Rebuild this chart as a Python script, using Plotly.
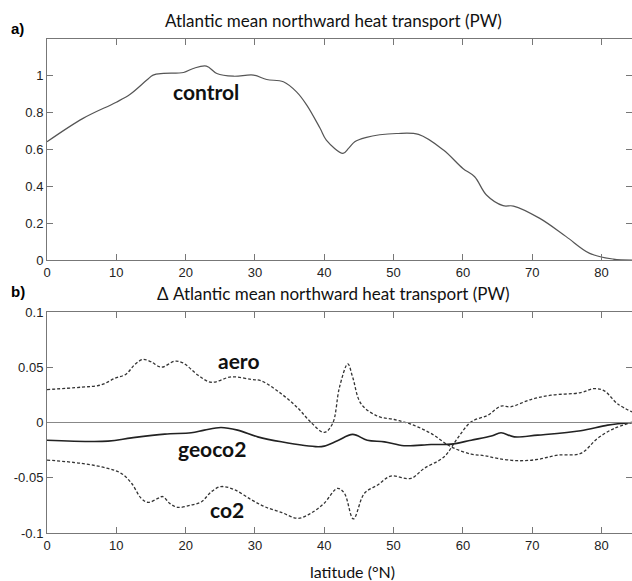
import plotly.graph_objects as go

# ---- data ----
control_lat = [0, 5.2, 10, 12, 14.4, 15.3, 16.8, 19.7, 21.1, 23.0, 24.5, 26.9, 29.8, 31.7, 34.1, 36.0,
               37.5, 39.4, 40.3, 42.7, 43.5, 44.4, 46.1, 48.0, 50.4, 53.6, 57.2, 60.0, 61.7, 63.4,
               65.8, 67.3, 71.1, 74.9, 78.3, 81.7, 84.4]
control_val = [0.642, 0.769, 0.857, 0.90, 0.977, 1.004, 1.013, 1.018, 1.04, 1.053, 1.013, 0.998, 1.004,
               0.98, 0.968, 0.913, 0.84, 0.715, 0.651, 0.579, 0.606, 0.642, 0.666, 0.68, 0.687, 0.682,
               0.597, 0.497, 0.452, 0.353, 0.295, 0.293, 0.226, 0.127, 0.036, 0.005, 0.0]

aero_lat = [0, 5, 7.8, 9.8, 11.4, 12.6, 13.8, 15.0, 16.5, 18.4, 19.6, 21.8, 23.7, 26.6, 29.5, 30.9,
            33.8, 36.2, 38.1, 40.0, 41.2, 42.2, 43.4, 44.1, 45.3, 47.7, 50.1, 52.5, 55.4, 58.3,
            61.2, 63.1, 65.0, 67.9, 70.8, 73.7, 77.0, 79.4, 81.8, 84.4]
aero_val = [0.0298, 0.032, 0.034, 0.040, 0.0437, 0.052, 0.057, 0.055, 0.050, 0.0554, 0.054, 0.0428,
            0.0364, 0.0413, 0.0389, 0.0377, 0.026, 0.013, 0.0, -0.009, -0.001, 0.032, 0.053, 0.041,
            0.017, 0.0057, 0.0027, -0.0015, -0.0099, -0.022, -0.0286, -0.030, -0.0325, -0.0346,
            -0.0334, -0.0295, -0.028, -0.0145, -0.0054, 0.0]

co2_lat = [0, 5, 8.8, 10.7, 12.2, 13.6, 14.6, 16.0, 16.7, 17.7, 18.9, 20.8, 22.3, 23.7, 25.1, 27.1,
           29.5, 31.4, 33.8, 36.2, 38.1, 40.0, 41.9, 42.9, 44.2, 45.8, 47.7, 49.6, 52.5, 54.4, 57.3,
           59.2, 61.2, 63.6, 65.5, 66.9, 69.8, 72.7, 77.0, 78.9, 80.4, 82.3, 84.4]
co2_val = [-0.034, -0.037, -0.0416, -0.046, -0.055, -0.0687, -0.0723, -0.0687, -0.067, -0.0732,
           -0.0768, -0.0747, -0.0717, -0.0627, -0.058, -0.061, -0.070, -0.0762, -0.0813, -0.0867,
           -0.082, -0.073, -0.0596, -0.064, -0.0873, -0.064, -0.0566, -0.0485, -0.0506, -0.0416,
           -0.031, -0.0145, 0.0006, 0.0066, 0.0148, 0.0142, 0.0208, 0.0247, 0.027, 0.0307, 0.0286,
           0.017, 0.0096]

geoco2_lat = [0, 8.8, 12.2, 17.0, 20.8, 22.7, 25.1, 27.5, 30.4, 33.8, 39.1, 40.0, 41.9, 44.1, 46.2,
              48.7, 51.5, 55.4, 58.3, 61.2, 64.1, 65.5, 67.4, 70.8, 77.0, 80.9, 84.4]
geoco2_val = [-0.016, -0.0169, -0.0139, -0.0105, -0.0093, -0.0069, -0.0045, -0.0069, -0.013, -0.0175,
              -0.022, -0.0214, -0.0166, -0.0108, -0.016, -0.0175, -0.021, -0.0199, -0.0196, -0.016,
              -0.0123, -0.0093, -0.013, -0.0114, -0.0075, -0.0024, 0.0]

x_ticks = [0, 10, 20, 30, 40, 50, 60, 70, 80]
top_yticks = [0, 0.2, 0.4, 0.6, 0.8, 1]
top_yticklabels = ["0", "0.2", "0.4", "0.6", "0.8", "1"]
bot_yticks = [-0.1, -0.05, 0, 0.05, 0.1]
bot_yticklabels = ["-0.1", "-0.05", "0", "0.05", "0.1"]

# ---- figure ----
fig = go.Figure()
fig.add_trace(go.Scatter(x=control_lat, y=control_val, mode="lines", line=dict(color="#555555", width=1.2),
                         xaxis="x", yaxis="y", line_shape="spline", showlegend=False))
fig.add_trace(go.Scatter(x=aero_lat, y=aero_val, mode="lines",
                         line=dict(color="#333333", width=1.3, dash="3px,2px"),
                         xaxis="x2", yaxis="y2", line_shape="spline", showlegend=False))
fig.add_trace(go.Scatter(x=co2_lat, y=co2_val, mode="lines",
                         line=dict(color="#333333", width=1.3, dash="3px,2px"),
                         xaxis="x2", yaxis="y2", line_shape="spline", showlegend=False))
fig.add_trace(go.Scatter(x=geoco2_lat, y=geoco2_val, mode="lines",
                         line=dict(color="#222222", width=1.6),
                         xaxis="x2", yaxis="y2", line_shape="spline", showlegend=False))

tickfont = dict(family="Liberation Sans, Arial, sans-serif", size=13, color="#222222")
axcommon = dict(showline=True, linecolor="#777777", linewidth=1, mirror="ticks", ticks="inside",
                ticklen=6, tickcolor="#777777", showgrid=False, zeroline=False, tickfont=tickfont)

fig.update_layout(
    width=632, height=581,
    margin=dict(l=47, r=0, t=39, b=48),
    paper_bgcolor="white", plot_bgcolor="white",
    xaxis=dict(domain=[0, 1], range=[0, 84.4], tickvals=x_ticks, anchor="y", **axcommon),
    yaxis=dict(domain=[0.5526, 1.0], range=[0, 1.2], tickvals=top_yticks, ticktext=top_yticklabels,
               anchor="x", **axcommon),
    xaxis2=dict(domain=[0, 1], range=[0, 84.4], tickvals=x_ticks, anchor="y2", **axcommon),
    yaxis2=dict(domain=[0, 0.4474], range=[-0.1, 0.1], tickvals=bot_yticks, ticktext=bot_yticklabels,
                anchor="x2", **axcommon),
)
# zero line in lower panel
fig.add_shape(type="line", xref="x2 domain", yref="y2", x0=0, x1=1, y0=0, y1=0,
              line=dict(color="#888888", width=1.2))

titlefont = dict(family="Lato, Open Sans, sans-serif", size=17, color="#111111")
labfont = dict(family="Lato, Open Sans, sans-serif", size=21, color="#111111", weight="bold")
annots = [
    dict(text="Atlantic mean northward heat transport (PW)", x=(333 - 47) / 585, y=1 + (39 - 21) / 494,
         xref="paper", yref="paper", showarrow=False, font=titlefont, xanchor="center", yanchor="middle"),
    dict(text="<b>a)</b>", x=(9 - 47) / 585, y=1 + (39 - 28) / 494, xref="paper", yref="paper",
         showarrow=False, font=dict(family="Liberation Sans, Arial", size=15, color="#000"),
         xanchor="left", yanchor="middle"),
    dict(text="Δ Atlantic mean northward heat transport (PW)", x=(333 - 47) / 585,
         y=(533 - 293) / 494, xref="paper", yref="paper", showarrow=False, font=titlefont,
         xanchor="center", yanchor="middle"),
    dict(text="<b>b)</b>", x=(9 - 47) / 585, y=(533 - 291) / 494, xref="paper", yref="paper",
         showarrow=False, font=dict(family="Liberation Sans, Arial", size=15, color="#000"),
         xanchor="left", yanchor="middle"),
    dict(text="latitude (°N)", x=(352 - 47) / 585, y=(533 - 571) / 494, xref="paper", yref="paper",
         showarrow=False, font=dict(family="Lato, Open Sans, sans-serif", size=16, color="#111"),
         xanchor="center", yanchor="middle"),
    dict(text="control", x=22.9, y=0.913, xref="x", yref="y", showarrow=False, font=labfont),
    dict(text="aero", x=27.6, y=0.0564, xref="x2", yref="y2", showarrow=False, font=labfont),
    dict(text="geoco2", x=23.8, y=-0.0236, xref="x2", yref="y2", showarrow=False, font=labfont),
    dict(text="co2", x=26.0, y=-0.0788, xref="x2", yref="y2", showarrow=False, font=labfont),
]
fig.update_layout(annotations=annots)

fig.write_html("out.html", config={"displayModeBar": False},
               post_script="document.body.style.margin='0';document.body.style.overflow='hidden';")
